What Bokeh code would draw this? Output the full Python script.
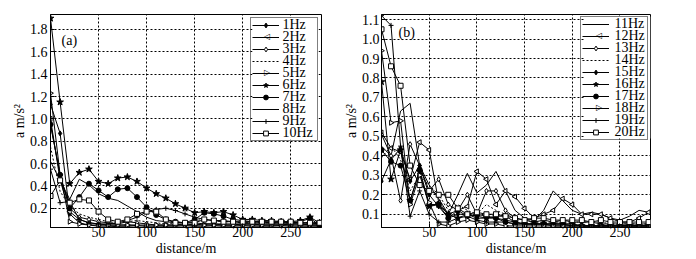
import math
from bokeh.plotting import figure
from bokeh.models import (FixedTicker, PrintfTickFormatter, Legend, LegendItem,
                          Label, Range1d, BoxAnnotation)
from bokeh.layouts import row
from bokeh.embed import file_html
from bokeh.resources import INLINE

FONT = "Liberation Serif"

distance = list(range(0, 290, 10))

# ---- panel (a) ----
names_a = ["1Hz", "2Hz", "3Hz", "4Hz", "5Hz", "6Hz", "7Hz", "8Hz", "9Hz", "10Hz"]
hz1 = [1.13, 0.87, 0.15, 0.07, 0.05, 0.04, 0.04, 0.035, 0.035, 0.03, 0.03, 0.03, 0.03, 0.03, 0.03,
       0.03, 0.03, 0.03, 0.03, 0.03, 0.03, 0.03, 0.03, 0.03, 0.03, 0.03, 0.03, 0.03, 0.03]
hz2 = [1.0, 0.45, 0.17, 0.1, 0.07, 0.06, 0.05, 0.05, 0.05, 0.045, 0.04, 0.04, 0.04, 0.04, 0.045,
       0.04, 0.04, 0.045, 0.04, 0.04, 0.045, 0.04, 0.04, 0.04, 0.045, 0.04, 0.04, 0.04, 0.04]
hz3 = [0.95, 0.5, 0.2, 0.12, 0.1, 0.08, 0.07, 0.06, 0.08, 0.07, 0.06, 0.05, 0.05, 0.05, 0.06,
       0.05, 0.06, 0.06, 0.05, 0.05, 0.06, 0.06, 0.05, 0.05, 0.05, 0.06, 0.06, 0.05, 0.05]
hz4 = [0.75, 0.35, 0.22, 0.15, 0.12, 0.1, 0.08, 0.07, 0.08, 0.09, 0.08, 0.07, 0.06, 0.07, 0.08,
       0.09, 0.1, 0.09, 0.08, 0.08, 0.07, 0.07, 0.07, 0.07, 0.07, 0.07, 0.07, 0.07, 0.07]
hz5 = [1.23, 0.5, 0.08, 0.06, 0.05, 0.05, 0.05, 0.05, 0.05, 0.05, 0.05, 0.05, 0.05, 0.05, 0.05,
       0.05, 0.05, 0.05, 0.05, 0.05, 0.05, 0.05, 0.05, 0.05, 0.05, 0.05, 0.05, 0.05, 0.05]
hz6 = [1.9, 1.15, 0.42, 0.52, 0.55, 0.44, 0.42, 0.47, 0.48, 0.44, 0.38, 0.33, 0.29, 0.24, 0.2,
       0.16, 0.17, 0.16, 0.17, 0.14, 0.1, 0.1, 0.09, 0.09, 0.08, 0.08, 0.09, 0.12, 0.07]
hz7 = [0.95, 0.5, 0.2, 0.3, 0.42, 0.36, 0.3, 0.37, 0.38, 0.3, 0.21, 0.14, 0.1, 0.08, 0.07,
       0.1, 0.16, 0.15, 0.13, 0.1, 0.09, 0.08, 0.08, 0.07, 0.07, 0.07, 0.08, 0.11, 0.05]
hz8 = [0.62, 0.45, 0.28, 0.46, 0.41, 0.33, 0.29, 0.27, 0.22, 0.17, 0.12, 0.09, 0.08, 0.07, 0.07,
       0.07, 0.06, 0.06, 0.06, 0.06, 0.06, 0.06, 0.06, 0.06, 0.06, 0.06, 0.06, 0.06, 0.06]
hz9 = [0.55, 0.25, 0.26, 0.1, 0.07, 0.06, 0.06, 0.07, 0.09, 0.12, 0.17, 0.19, 0.2, 0.18, 0.15,
       0.12, 0.1, 0.09, 0.09, 0.08, 0.07, 0.07, 0.07, 0.07, 0.07, 0.07, 0.07, 0.07, 0.06]
hz10 = [0.31, 0.45, 0.25, 0.28, 0.27, 0.17, 0.1, 0.08, 0.1, 0.15, 0.17, 0.17, 0.1, 0.07, 0.07,
        0.07, 0.1, 0.09, 0.08, 0.08, 0.08, 0.08, 0.08, 0.08, 0.08, 0.08, 0.07, 0.07, 0.07]
values_a = [hz1, hz2, hz3, hz4, hz5, hz6, hz7, hz8, hz9, hz10]
yticks_a = [0.2, 0.4, 0.6, 0.8, 1.0, 1.2, 1.4, 1.6, 1.8]

# ---- panel (b) ----
names_b = ["11Hz", "12Hz", "13Hz", "14Hz", "15Hz", "16Hz", "17Hz", "18Hz", "19Hz", "20Hz"]
hz11 = [0.45, 0.4, 0.63, 0.67, 0.35, 0.25, 0.18, 0.1, 0.2, 0.31, 0.21, 0.25, 0.32, 0.22, 0.12,
        0.08, 0.07, 0.12, 0.22, 0.17, 0.12, 0.1, 0.11, 0.1, 0.08, 0.07, 0.09, 0.12, 0.11]
hz12 = [0.52, 0.44, 0.42, 0.28, 0.47, 0.43, 0.16, 0.1, 0.12, 0.14, 0.32, 0.28, 0.15, 0.22, 0.19,
        0.13, 0.08, 0.1, 0.12, 0.18, 0.15, 0.1, 0.1, 0.1, 0.08, 0.06, 0.06, 0.08, 0.11]
hz13 = [0.51, 0.4, 0.17, 0.46, 0.35, 0.22, 0.28, 0.15, 0.12, 0.2, 0.1, 0.22, 0.22, 0.12, 0.08,
        0.07, 0.06, 0.07, 0.06, 0.07, 0.06, 0.06, 0.06, 0.05, 0.05, 0.05, 0.05, 0.05, 0.05]
hz14 = [0.39, 0.45, 0.38, 0.22, 0.3, 0.25, 0.2, 0.12, 0.15, 0.12, 0.1, 0.15, 0.12, 0.1, 0.08,
        0.07, 0.06, 0.06, 0.06, 0.06, 0.06, 0.06, 0.06, 0.06, 0.05, 0.05, 0.05, 0.05, 0.05]
hz15 = [0.27, 0.38, 0.44, 0.27, 0.35, 0.2, 0.14, 0.08, 0.1, 0.1, 0.08, 0.08, 0.08, 0.07, 0.06,
        0.05, 0.05, 0.05, 0.05, 0.05, 0.05, 0.04, 0.04, 0.04, 0.04, 0.04, 0.04, 0.04, 0.04]
hz16 = [0.78, 0.28, 0.43, 0.17, 0.32, 0.14, 0.15, 0.1, 0.08, 0.1, 0.09, 0.08, 0.09, 0.09, 0.06,
        0.05, 0.05, 0.05, 0.05, 0.05, 0.05, 0.04, 0.04, 0.04, 0.04, 0.04, 0.04, 0.04, 0.04]
hz17 = [0.43, 0.37, 0.35, 0.17, 0.33, 0.15, 0.15, 0.08, 0.12, 0.09, 0.1, 0.09, 0.08, 0.06, 0.05,
        0.05, 0.05, 0.05, 0.04, 0.04, 0.04, 0.04, 0.04, 0.04, 0.04, 0.04, 0.04, 0.04, 0.04]
hz18 = [0.94, 0.57, 0.58, 0.15, 0.3, 0.16, 0.05, 0.04, 0.06, 0.07, 0.06, 0.05, 0.05, 0.04, 0.04,
        0.04, 0.04, 0.04, 0.04, 0.04, 0.04, 0.04, 0.04, 0.04, 0.04, 0.04, 0.04, 0.04, 0.04]
hz19 = [1.12, 1.07, 0.45, 0.09, 0.22, 0.1, 0.06, 0.06, 0.08, 0.09, 0.07, 0.06, 0.06, 0.06, 0.05,
        0.05, 0.05, 0.05, 0.05, 0.05, 0.04, 0.04, 0.04, 0.04, 0.04, 0.04, 0.04, 0.04, 0.04]
hz20 = [1.05, 0.86, 0.76, 0.35, 0.25, 0.22, 0.2, 0.2, 0.13, 0.1, 0.11, 0.1, 0.1, 0.09, 0.08,
        0.07, 0.08, 0.08, 0.07, 0.07, 0.07, 0.07, 0.06, 0.07, 0.06, 0.06, 0.06, 0.06, 0.06]
values_b = [hz11, hz12, hz13, hz14, hz15, hz16, hz17, hz18, hz19, hz20]
yticks_b = [0.1, 0.2, 0.3, 0.4, 0.5, 0.6, 0.7, 0.8, 0.9, 1.0, 1.1]
xticks = [50, 100, 150, 200, 250]

# marker styles: (marker, fill, angle, dash)
LEFT, RIGHT = math.pi / 2, -math.pi / 2
styles_a = [("diamond", "black", 0, "solid"), ("triangle", "white", LEFT, "solid"),
            ("diamond", "white", 0, "solid"), (None, None, 0, "2 2"),
            ("triangle", "white", RIGHT, "solid"), ("star", "black", 0, "solid"),
            ("circle", "black", 0, "solid"), (None, None, 0, "solid"),
            ("cross", "black", 0, "solid"), ("square", "white", 0, "solid")]
styles_b = [(None, None, 0, "solid"), ("triangle", "white", LEFT, "solid"),
            ("diamond", "white", 0, "solid"), (None, None, 0, "2 2"),
            ("diamond", "black", 0, "solid"), ("star", "black", 0, "solid"),
            ("circle", "black", 0, "solid"), ("triangle", "white", RIGHT, "solid"),
            ("cross", "black", 0, "solid"), ("square", "white", 0, "solid")]

FRAME_H = 213
ROW_H = 12
GLYPH_W = 27
LABEL_W = 35
PAD = 1
STANDOFF = 2


def make_panel(names, values, styles, yr, yticks, tag, tagx, tagy, width, bl, br,
               leg_margin, ylab_standoff, ytick_standoff):
    p = figure(width=width, height=259, output_backend="svg", toolbar_location=None,
               x_range=Range1d(0, 282), y_range=Range1d(*yr),
               min_border_left=bl, min_border_right=br, min_border_top=14, min_border_bottom=32)
    p.outline_line_color = "black"
    p.outline_line_width = 1
    p.background_fill_color = "white"
    for ax in (p.xaxis[0], p.yaxis[0]):
        ax.major_tick_in = 4
        ax.major_tick_out = 0
        ax.minor_tick_in = 0
        ax.minor_tick_out = 0
        ax.axis_line_color = "black"
        ax.major_label_text_font = FONT
        ax.major_label_text_font_size = "14px"
        ax.major_label_text_color = "black"
        ax.axis_label_text_font = FONT
        ax.axis_label_text_font_size = "14px"
        ax.axis_label_text_font_style = "normal"
        ax.axis_label_text_color = "black"
    p.xaxis.major_label_standoff = -1
    p.yaxis.major_label_standoff = ytick_standoff
    p.xaxis.ticker = FixedTicker(ticks=xticks)
    p.yaxis.ticker = FixedTicker(ticks=yticks)
    p.yaxis.formatter = PrintfTickFormatter(format="%.1f")
    p.xaxis.axis_label = "distance/m"
    p.yaxis.axis_label = "a m/s²"
    p.xaxis.axis_label_standoff = 1
    p.yaxis.axis_label_standoff = ylab_standoff
    p.xgrid.ticker = FixedTicker(ticks=xticks)
    p.ygrid.ticker = FixedTicker(ticks=yticks)
    p.xgrid.grid_line_color = "black"
    p.ygrid.grid_line_color = "black"
    p.xgrid.grid_line_dash = "2 2"
    p.ygrid.grid_line_dash = "2 2"
    p.xgrid.grid_line_alpha = 1.0
    p.ygrid.grid_line_alpha = 1.0

    frame_w = width - bl - br
    box_right = frame_w - leg_margin
    text_x = box_right - PAD - LABEL_W
    glyph_cx = text_x - STANDOFF - GLYPH_W / 2
    box_left = text_x - STANDOFF - GLYPH_W - PAD
    box_top = FRAME_H - leg_margin
    box_bottom = box_top - 2 * PAD - ROW_H * len(names)

    items = []
    for name, vals, (mk, fill, ang, dash) in zip(names, values, styles):
        rs = [p.line(distance, vals, line_color="black", line_width=1, line_dash=dash)]
        if mk is not None:
            sr = p.scatter(distance, vals, marker=mk, size=5 if mk != "star" else 7,
                           angle=ang, line_color="black", fill_color=fill, line_width=1)
            if ang == 0:
                rs.append(sr)
        items.append(LegendItem(label=" ", renderers=rs))

    # white legend background, drawn under the legend texts
    p.add_layout(BoxAnnotation(left=box_left, right=box_right, top=box_top, bottom=box_bottom,
                               left_units="screen", right_units="screen",
                               top_units="screen", bottom_units="screen",
                               fill_color="white", fill_alpha=1.0, line_color=None,
                               level="annotation"))
    for i, ((mk, fill, ang, dash), name) in enumerate(zip(styles, names)):
        ty = box_top - PAD - ROW_H / 2 - ROW_H * i
        if mk == "triangle":
            sym = "◁" if ang == LEFT else "▷"
            p.add_layout(Label(x=glyph_cx, y=ty, x_units="screen", y_units="screen",
                               text=sym, text_font="DejaVu Sans", text_font_size="8px",
                               text_color="black", text_baseline="middle",
                               text_align="center"))
        p.add_layout(Label(x=text_x, y=ty, x_units="screen", y_units="screen", text=name,
                           text_font=FONT, text_font_size="14px", text_color="black",
                           text_baseline="middle", text_align="left"))
    leg = Legend(items=items, location="top_right", margin=leg_margin, padding=PAD, spacing=0,
                 label_text_font=FONT, label_text_font_size="1px", label_height=ROW_H,
                 glyph_height=ROW_H, glyph_width=GLYPH_W, label_standoff=STANDOFF,
                 label_width=LABEL_W, border_line_color="black", border_line_width=1,
                 background_fill_alpha=0.0)
    p.add_layout(leg)
    p.add_layout(Label(x=tagx, y=tagy, x_units="screen", y_units="screen", text=tag,
                       text_font=FONT, text_font_size="14px", text_color="black"))
    return p


pa = make_panel(names_a, values_a, styles_a, (0.028, 1.934), yticks_a, "(a)",
                11, 180, 340, 50, 19, 3, 0, 3)
pb = make_panel(names_b, values_b, styles_b, (0.032, 1.126), yticks_b, "(b)",
                17, 188, 356, 39, 46, 2, 0, 2)

layout = row(pa, pb, spacing=0)
open("out.html", "w").write(file_html(layout, INLINE))
